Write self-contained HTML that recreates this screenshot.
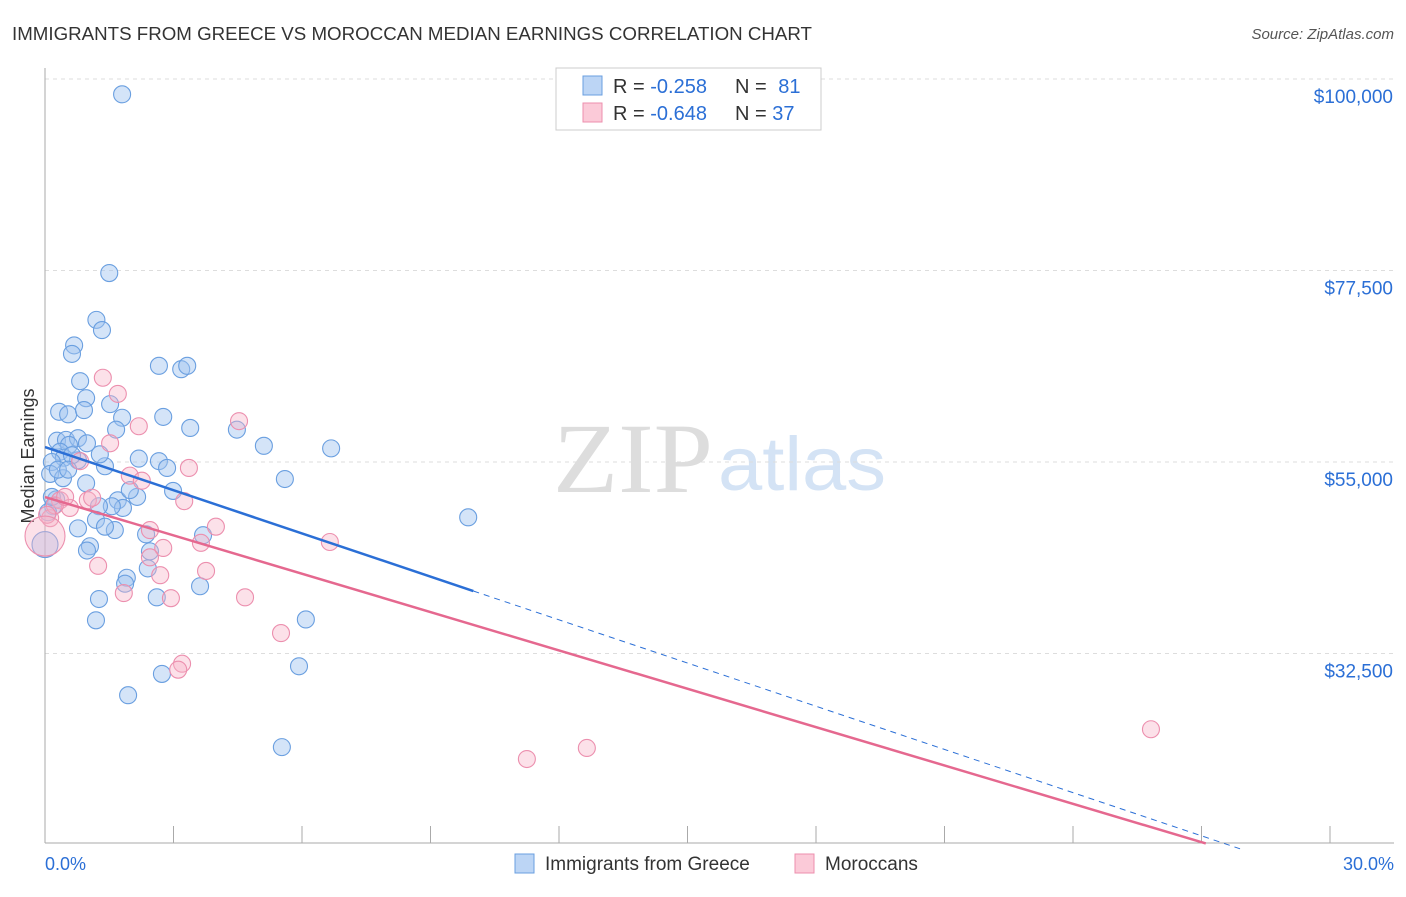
<!DOCTYPE html>
<html><head><meta charset="utf-8"><style>
body{margin:0;background:#fff;font-family:"Liberation Sans",sans-serif}
#c{position:relative;width:1406px;height:892px}
</style></head><body>
<div id="c">
<svg id="s" width="1406" height="892" xmlns="http://www.w3.org/2000/svg">
<text x="12" y="40" font-size="18" fill="#333" textLength="800" lengthAdjust="spacingAndGlyphs">IMMIGRANTS FROM GREECE VS MOROCCAN MEDIAN EARNINGS CORRELATION CHART</text>
<text x="1394" y="39" font-size="15" fill="#555" text-anchor="end" font-style="italic">Source: ZipAtlas.com</text>
<text x="34" y="456" font-size="18" fill="#333" text-anchor="middle" transform="rotate(-90 34 456)">Median Earnings</text>
<text x="553" y="492" font-size="100" fill="#ddd" font-family="Liberation Serif" textLength="160" lengthAdjust="spacingAndGlyphs">ZIP</text>
<text x="718" y="490" font-size="76" fill="#d4e3f5" textLength="168" lengthAdjust="spacingAndGlyphs">atlas</text>
<g id="grid"></g><g id="pts"></g><g id="lines"></g>
<g>
<rect x="556" y="68" width="265" height="62" fill="#fff" stroke="#ccc"/>
<rect x="583" y="76" width="19" height="19" fill="#bcd5f5" stroke="#6a9fe0"/>
<rect x="583" y="103" width="19" height="19" fill="#fbcad8" stroke="#ec8fae"/>
<text x="613" y="93" font-size="20" fill="#333">R = <tspan fill="#2b6fd6">-0.258</tspan></text>
<text x="735" y="93" font-size="20" fill="#333">N = <tspan fill="#2b6fd6" dx="6">81</tspan></text>
<text x="613" y="120" font-size="20" fill="#333">R = <tspan fill="#2b6fd6">-0.648</tspan></text>
<text x="735" y="120" font-size="20" fill="#333">N = <tspan fill="#2b6fd6">37</tspan></text>
</g>
<g>
<rect x="515" y="854" width="19" height="19" fill="#bcd5f5" stroke="#6a9fe0"/>
<text x="545" y="870" font-size="19" fill="#333">Immigrants from Greece</text>
<rect x="795" y="854" width="19" height="19" fill="#fbcad8" stroke="#ec8fae"/>
<text x="825" y="870" font-size="19" fill="#333">Moroccans</text>
</g>
<text x="45" y="870" font-size="18" fill="#2b6fd6">0.0%</text>
<text x="1394" y="870" font-size="18" fill="#2b6fd6" text-anchor="end">30.0%</text>
</svg></div>
<script>
const yTicks=[100000,77500,55000,32500];
const yTickLabels=["$100,000","$77,500","$55,000","$32,500"];
const xTicks=[0,3,6,9,12,15,18,21,24,27,30];
const greeceX=[1.8,1.5,1.2,1.33,0.68,0.63,2.66,3.18,3.32,0.82,0.96,1.52,0.33,0.54,0.91,1.8,2.76,3.39,4.48,1.66,0.28,0.49,0.77,0.98,0.56,5.11,6.68,0.35,0.44,0.77,2.19,2.66,2.85,1.4,0.16,0.12,0.42,0.96,5.6,2.99,2.15,0.26,0.19,1.7,1.82,1.56,1.26,1.19,9.88,0.77,1.63,1.4,2.36,3.69,1.05,0.98,2.45,2.4,1.91,1.87,1.26,2.61,3.62,1.19,6.09,5.93,2.73,1.94,5.53,0.07,0.16,0.3,0.63,1.28,1.98,0.54,0];
const greeceY=[98200,77200,71700,70500,68700,67700,66300,65900,66300,64500,62500,61800,60900,60600,61100,60200,60300,59000,58800,58800,57500,57600,57800,57200,57000,56900,56600,56200,55500,55200,55400,55100,54300,54500,55000,53600,53100,52500,53000,51600,50900,50600,49800,50500,49600,49800,49800,48200,48500,47200,47000,47400,46500,46400,45100,44600,44500,42500,41400,40700,38900,39100,40400,36400,36500,31000,30100,27600,21500,49100,50900,54100,55800,55900,51700,54100,45300];
const morX=[1.35,1.7,2.19,4.53,1.52,0.82,3.36,1.98,2.26,1.0,0.35,0.58,3.25,0.12,3.99,3.64,2.76,2.45,1.24,2.69,3.76,1.84,2.94,4.67,5.51,3.2,3.11,6.65,11.25,12.65,25.82,0.23,1.1,0.47,0.05,2.45,0];
const morY=[64900,63000,59200,59800,57200,55100,54300,53400,52800,50500,50500,49600,50400,48400,47400,45500,44900,43800,42800,41700,42200,39600,39000,39100,34900,31300,30600,45600,20100,21400,23600,49900,50800,50900,48800,47000,46300];
const greeceTrend=[56760,-1692];
const morTrend=[50885,-1502];
const NS="http://www.w3.org/2000/svg";
const X=p=>45+p*(1285/30);
const Y=v=>79+(100000-v)*191.5/22500;
function mk(tag,attrs,parent){const e=document.createElementNS(NS,tag);for(const k in attrs)e.setAttribute(k,attrs[k]);parent.appendChild(e);return e;}
const grid=document.getElementById('grid');
yTicks.forEach((t,i)=>{
 const l=mk('line',{x1:45,x2:1394,y1:Y(t),y2:Y(t),stroke:'#ddd','stroke-dasharray':'4,4'},grid);
 
 
 const tx=mk('text',{x:1393,y:Y(t)+24,'font-size':19,fill:'#2b6fd6','text-anchor':'end'},grid);
 tx.textContent=yTickLabels[i];
 
 
});
const ax=mk('line',{x1:45,x2:45,y1:68,y2:843,stroke:'#aaa'},grid);


const bx=mk('line',{x1:45,x2:1394,y1:843,y2:843,stroke:'#aaa'},grid);


xTicks.forEach(t=>{
 const l=mk('line',{x1:X(t),x2:X(t),y1:826,y2:843,stroke:'#aaa'},grid);
 
 
});
const pts=document.getElementById('pts');
greeceX.forEach((p,i)=>{
 const big=(p===0&&greeceY[i]===45300);
 const c=mk('circle',{cx:X(p),cy:Y(greeceY[i]),r:big?13:8.5,fill:'rgba(160,196,240,0.45)',stroke:'#6a9fe0','stroke-width':1.1},pts);
 
 
});
morX.forEach((p,i)=>{
 const big=(p===0&&morY[i]===46300);
 const c=mk('circle',{cx:X(p),cy:Y(morY[i]),r:big?20:8.5,fill:'rgba(248,180,200,0.4)',stroke:'#ec8fae','stroke-width':1.1},pts);
 
 
});
const lines=document.getElementById('lines');
const gv=p=>greeceTrend[0]+greeceTrend[1]*p, mv=p=>morTrend[0]+morTrend[1]*p;
const l1=mk('line',{x1:X(0),y1:Y(gv(0)),x2:X(10),y2:Y(gv(10)),stroke:'#2b6fd6','stroke-width':2.5},lines);


const l2=mk('line',{x1:X(10),y1:Y(gv(10)),x2:X(27.9),y2:Y(gv(27.9)),stroke:'#2b6fd6','stroke-width':1,'stroke-dasharray':'6,5'},lines);


const l3=mk('line',{x1:X(0),y1:Y(mv(0)),x2:X(27.1),y2:Y(mv(27.1)),stroke:'#e5688f','stroke-width':2.5},lines);


</script>
</body></html>
